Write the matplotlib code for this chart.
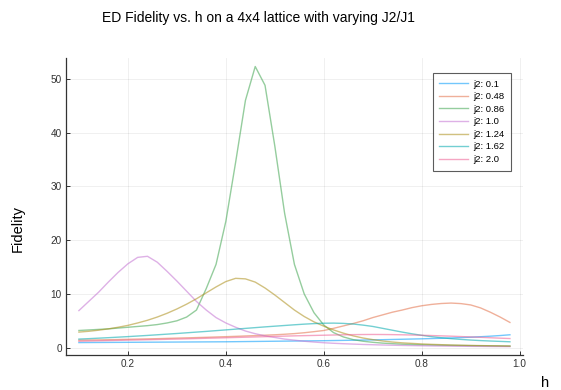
import numpy as np
import matplotlib.pyplot as plt

plt.rcParams['font.family'] = ['Liberation Sans', 'DejaVu Sans']

# transverse field values h = 0.10 ... 0.98
h = np.round(np.arange(0.10, 0.99, 0.02), 2)

j2_labels = ["j2: 0.1", "j2: 0.48", "j2: 0.86", "j2: 1.0", "j2: 1.24", "j2: 1.62", "j2: 2.0"]
colors = ["#009AFA", "#E36F47", "#3EA44E", "#C371D2", "#AC8E18", "#00A9AD", "#ED5E93"]

fid_01 = [0.95, 0.96, 0.97, 0.98, 0.99, 1.00, 1.01, 1.02, 1.03, 1.04, 1.05, 1.06, 1.07, 1.08, 1.09,
          1.10, 1.12, 1.14, 1.16, 1.18, 1.20, 1.22, 1.24, 1.26, 1.28, 1.30, 1.33, 1.36, 1.39, 1.42,
          1.45, 1.49, 1.53, 1.57, 1.61, 1.65, 1.70, 1.75, 1.81, 1.88, 1.95, 2.04, 2.14, 2.26, 2.40]
fid_048 = [1.40, 1.42, 1.45, 1.48, 1.52, 1.56, 1.60, 1.64, 1.68, 1.73, 1.78, 1.83, 1.88, 1.93, 1.99,
           2.05, 2.11, 2.18, 2.25, 2.32, 2.40, 2.50, 2.62, 2.78, 2.98, 3.20, 3.60, 4.05, 4.50, 5.00,
           5.60, 6.10, 6.60, 7.00, 7.45, 7.80, 8.05, 8.22, 8.30, 8.20, 7.95, 7.40, 6.60, 5.70, 4.70]
fid_086 = [3.20, 3.30, 3.40, 3.50, 3.65, 3.80, 3.95, 4.10, 4.30, 4.60, 5.00, 5.70, 7.00, 11.0, 15.5,
           23.5, 34.5, 46.0, 52.3, 48.8, 37.5, 25.0, 15.5, 10.0, 6.50, 4.20, 2.80, 2.00, 1.50, 1.20,
           1.00, 0.85, 0.75, 0.65, 0.60, 0.55, 0.50, 0.46, 0.43, 0.40, 0.38, 0.36, 0.34, 0.32, 0.30]
fid_10 = [6.90, 8.60, 10.3, 12.2, 14.0, 15.6, 16.8, 17.0, 15.9, 14.2, 12.4, 10.5, 8.60, 7.00, 5.60,
          4.60, 3.80, 3.10, 2.60, 2.20, 1.90, 1.60, 1.40, 1.20, 1.05, 0.92, 0.82, 0.74, 0.67, 0.60,
          0.55, 0.50, 0.46, 0.42, 0.39, 0.36, 0.33, 0.31, 0.29, 0.27, 0.25, 0.24, 0.22, 0.21, 0.20]
fid_124 = [2.90, 3.05, 3.25, 3.50, 3.80, 4.15, 4.60, 5.10, 5.70, 6.40, 7.20, 8.10, 9.10, 10.2, 11.3,
           12.3, 12.9, 12.8, 12.2, 11.1, 9.80, 8.40, 7.00, 5.80, 4.80, 4.00, 3.30, 2.70, 2.20, 1.80,
           1.50, 1.25, 1.05, 0.90, 0.80, 0.70, 0.62, 0.56, 0.50, 0.46, 0.42, 0.39, 0.36, 0.33, 0.30]
fid_162 = [1.60, 1.68, 1.77, 1.86, 1.96, 2.06, 2.17, 2.28, 2.40, 2.52, 2.64, 2.77, 2.90, 3.03, 3.17,
           3.31, 3.45, 3.59, 3.73, 3.87, 4.00, 4.13, 4.26, 4.38, 4.48, 4.55, 4.57, 4.52, 4.40, 4.20,
           3.95, 3.60, 3.25, 2.90, 2.58, 2.30, 2.05, 1.85, 1.68, 1.54, 1.42, 1.32, 1.24, 1.17, 1.10]
fid_20 = [1.20, 1.24, 1.28, 1.32, 1.36, 1.40, 1.44, 1.48, 1.52, 1.56, 1.60, 1.65, 1.70, 1.75, 1.80,
          1.85, 1.90, 1.95, 2.00, 2.05, 2.10, 2.15, 2.20, 2.24, 2.28, 2.32, 2.36, 2.40, 2.43, 2.45,
          2.46, 2.45, 2.43, 2.40, 2.36, 2.31, 2.26, 2.20, 2.14, 2.07, 2.00, 1.93, 1.85, 1.77, 1.70]

series = [fid_01, fid_048, fid_086, fid_10, fid_124, fid_162, fid_20]

fig = plt.figure(figsize=(5.61, 3.90), dpi=100)
ax = fig.add_axes([0.1176, 0.0897, 0.8144, 0.7613])

for vals, lab, col in zip(series, j2_labels, colors):
    ax.plot(h, vals, color=col, alpha=0.55, linewidth=1.0, label=lab)

# 3% padding on each side, like the Plots.jl defaults
xmin, xmax = h.min(), h.max()
ymin = min(min(s) for s in series)
ymax = max(max(s) for s in series)
ax.set_xlim(xmin - 0.03 * (xmax - xmin), xmax + 0.03 * (xmax - xmin))
ax.set_ylim(ymin - 0.03 * (ymax - ymin), ymax + 0.03 * (ymax - ymin))

ax.set_xticks([0.2, 0.4, 0.6, 0.8, 1.0])
ax.set_yticks([0, 10, 20, 30, 40, 50])
ax.grid(True, color='#000000', alpha=0.07, linewidth=0.6)
ax.spines['top'].set_visible(False)
ax.spines['right'].set_visible(False)
for sp in ('left', 'bottom'):
    ax.spines[sp].set_color('#333333')
    ax.spines[sp].set_linewidth(0.9)
ax.tick_params(direction='in', length=3, width=0.7, colors='#333333', labelsize=7.2, pad=3)

fig.text(0.46, 0.954, "ED Fidelity vs. h on a 4x4 lattice with varying J2/J1",
         ha='center', va='center', fontsize=10)
fig.text(0.032, 0.415, "Fidelity", rotation=90, ha='center', va='center', fontsize=10.5)
fig.text(0.971, 0.018, "h", ha='center', va='center', fontsize=10.5)

leg = ax.legend(loc='upper right', bbox_to_anchor=(0.911, 0.813), bbox_transform=fig.transFigure,
                borderaxespad=0, fontsize=6.8, frameon=True, fancybox=False, handlelength=3.0,
                labelspacing=0.38, borderpad=0.7, handletextpad=0.6)
leg.get_frame().set_edgecolor('#333333')
leg.get_frame().set_linewidth(0.8)

fig.savefig("out.png", dpi=100)
